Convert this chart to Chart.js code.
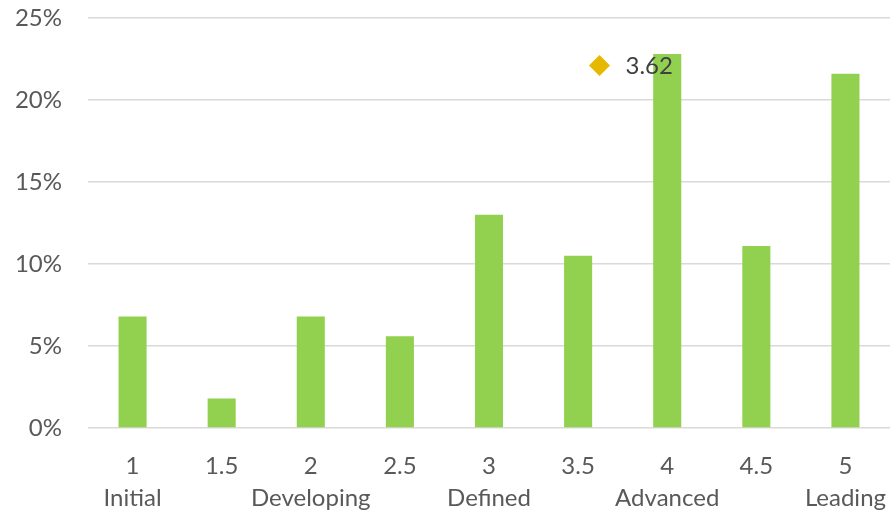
<!DOCTYPE html>
<html>
<head>
<meta charset="utf-8">
<script src="https://cdn.jsdelivr.net/npm/chart.js@4/dist/chart.umd.min.js"></script>
<style>
  html, body { margin: 0; padding: 0; background: #fff; overflow: hidden; }
  #chart { display: block; }
</style>
</head>
<body>
<canvas id="chart" width="895" height="514"></canvas>
<script>
// maturity levels on the x axis, with stage names under the whole numbers
const levels = ['1', '1.5', '2', '2.5', '3', '3.5', '4', '4.5', '5'];
const stageNames = ['Initial', '', 'Developing', '', 'Defined', '', 'Advanced', '', 'Leading'];

// share of respondents per level, in percent
const shares = [6.8, 1.8, 6.8, 5.6, 13.0, 10.5, 22.8, 11.1, 21.6];

// average score marker
const averageScore = 3.62;
const averageY = 22.1;

const yTicks = [0, 5, 10, 15, 20, 25];

const labels = levels.map((l, i) => stageNames[i] ? [l, stageNames[i]] : l);

const FONT = 'Lato, "Open Sans", sans-serif';
const FONT_SIZE = 24;

const noPadding = (scale) => {
    scale.paddingLeft = 0;
    scale.paddingRight = 0;
    scale.paddingTop = 0;
    scale.paddingBottom = 0;
};

const averageLabel = {
    id: 'averageLabel',
    afterDatasetsDraw(chart) {
        const pt = chart.getDatasetMeta(1).data[0];
        if (!pt) return;
        const ctx = chart.ctx;
        ctx.save();
        ctx.font = FONT_SIZE + 'px ' + FONT;
        ctx.fillStyle = '#404040';
        ctx.textAlign = 'left';
        ctx.textBaseline = 'middle';
        ctx.fillText(averageScore.toFixed(2), pt.x + 26, pt.y + 1);
        ctx.restore();
    }
};

const initChart = (initElement) => {
    const config = {
        type: 'bar',
        data: {
            labels: labels,
            datasets: [{
                data: [...shares],
                backgroundColor: '#92D050',
                borderWidth: 0,
                grouped: false,
                barPercentage: 0.63,
                categoryPercentage: 0.5,
                xAxisID: 'x',
                order: 2
            }, {
                type: 'scatter',
                data: [{ x: averageScore, y: averageY }],
                xAxisID: 'x2',
                pointStyle: 'rectRot',
                pointRadius: 10.5,
                pointHoverRadius: 10.5,
                backgroundColor: '#E6B800',
                borderColor: '#E6B800',
                borderWidth: 0,
                order: 1
            }]
        },
        options: {
            responsive: false,
            animation: false,
            layout: {
                autoPadding: false,
                padding: { top: 18, right: 5, left: 0, bottom: 0 }
            },
            plugins: {
                legend: false,
                tooltip: { enabled: false }
            },
            scales: {
                x: {
                    grid: { display: false },
                    border: { display: false },
                    ticks: {
                        color: '#595959',
                        font: { family: FONT, size: FONT_SIZE, lineHeight: 1.35 },
                        padding: 14,
                        maxRotation: 0,
                        autoSkip: false
                    },
                    afterFit: (scale) => {
                        scale.height = 86;
                        noPadding(scale);
                    }
                },
                // hidden numeric axis lined up with the categories, for the average marker
                x2: {
                    type: 'linear',
                    display: false,
                    offset: false,
                    bounds: 'data',
                    min: 0.75,
                    max: 5.25,
                    afterFit: noPadding
                },
                y: {
                    min: 0,
                    max: 25,
                    afterBuildTicks: (scale) => {
                        scale.ticks = yTicks.map(v => ({ value: v }));
                    },
                    grid: {
                        color: '#D9D9D9',
                        lineWidth: 1.5,
                        drawTicks: false
                    },
                    border: { display: false },
                    ticks: {
                        color: '#595959',
                        font: { family: FONT, size: FONT_SIZE },
                        padding: 26,
                        callback: (v) => v + '%'
                    },
                    afterFit: (scale) => {
                        scale.width = 88;
                        noPadding(scale);
                    }
                }
            }
        },
        plugins: [averageLabel]
    };

    return new Chart(initElement, config);
};

initChart(document.getElementById('chart'));
</script>
</body>
</html>
